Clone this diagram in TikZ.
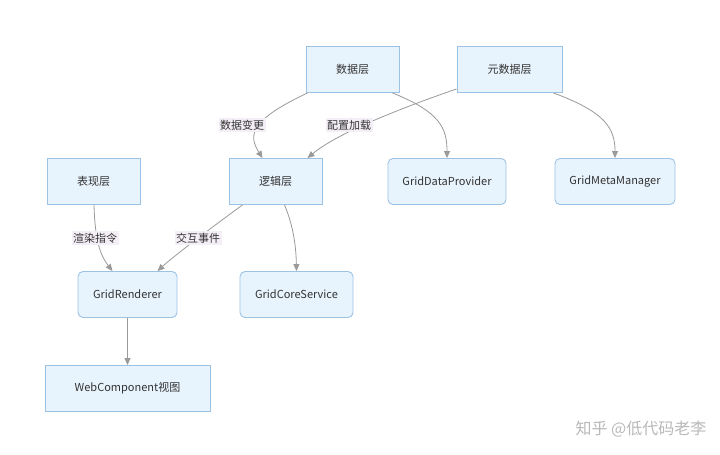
\documentclass[tikz,border=0pt]{standalone}
\usepackage{fontspec}
\setmainfont{Noto Sans CJK SC}
\usetikzlibrary{arrows.meta}
\definecolor{boxfill}{HTML}{E8F4FD}
\definecolor{boxline}{HTML}{9CC2E5}
\definecolor{edgegray}{HTML}{9A9A9A}
\definecolor{labelbg}{HTML}{F4EFF6}
\definecolor{txt}{HTML}{333333}
\begin{document}
\begin{tikzpicture}[x=1pt,y=-1pt]
\tikzstyle{layer}=[draw=boxline,fill=boxfill,line width=0.9pt,text=txt,font=\fontsize{11}{13}\selectfont,minimum height=46pt,inner sep=0pt];
\tikzstyle{comp}=[layer,rounded corners=5pt];
\tikzstyle{myarrow}=[draw=edgegray,line width=0.8pt,-{Triangle[length=7pt,width=6pt,fill=edgegray]}];
\tikzstyle{elabel}=[fill=labelbg,text=txt,font=\fontsize{11}{13}\selectfont,inner sep=1.5pt];

\useasboundingbox[fill=white] (0,0) rectangle (720,455);

% layers
\node[layer,minimum width=93pt] (shuju) at (352.5,69.5) {数据层};
\node[layer,minimum width=105pt] (yuan) at (509.5,69.5) {元数据层};
\node[layer,minimum width=93pt] (biao) at (93.5,181.5) {表现层};
\node[layer,minimum width=93pt] (luoji) at (275.5,181.5) {逻辑层};

% components
\node[comp,minimum width=118pt] (provider) at (447,181.5) {GridDataProvider};
\node[comp,minimum width=120pt] (meta) at (615,181.5) {GridMetaManager};
\node[comp,minimum width=99pt] (renderer) at (127.5,294.5) {GridRenderer};
\node[comp,minimum width=113pt] (core) at (296.5,294.5) {GridCoreService};
\node[layer,minimum width=165pt] (web) at (127.5,388.5) {WebComponent视图};

% edges
\draw [myarrow] ([xshift=2pt]shuju.south west) .. controls (250,120) and (248,135) .. ([xshift=-13pt]luoji.north);
\node[elabel] (l1) at (242,125) {数据变更};

\draw [myarrow] ([yshift=4pt]yuan.south west) .. controls (390,112) and (335,135) .. ([xshift=32pt]luoji.north);
\node[elabel] (l2) at (349,125) {配置加载};

\draw [myarrow] ([xshift=-7pt]shuju.south east) .. controls (440,112) and (447,128) .. (provider.north);
\draw [myarrow] ([xshift=-9pt]yuan.south east) .. controls (605,112) and (615,128) .. (meta.north);

\draw [myarrow] ([xshift=0.5pt]biao.south) .. controls (95,240) and (100,255) .. ([xshift=-15pt]renderer.north);
\node[elabel] (l3) at (95,238) {渲染指令};

\draw [myarrow] ([xshift=-33pt]luoji.south) .. controls (215,225) and (175,255) .. ([xshift=30pt]renderer.north);
\node[elabel] (l4) at (198,238) {交互事件};

\draw [myarrow] ([xshift=9pt]luoji.south) .. controls (293,225) and (296,245) .. (core.north);
\draw [myarrow] (renderer.south) -- (web.north);

% watermark
\node[text=gray!55,font=\fontsize{16}{18}\selectfont] (mark) at (641,429) {知乎 @低代码老李};
\end{tikzpicture}
\end{document}
